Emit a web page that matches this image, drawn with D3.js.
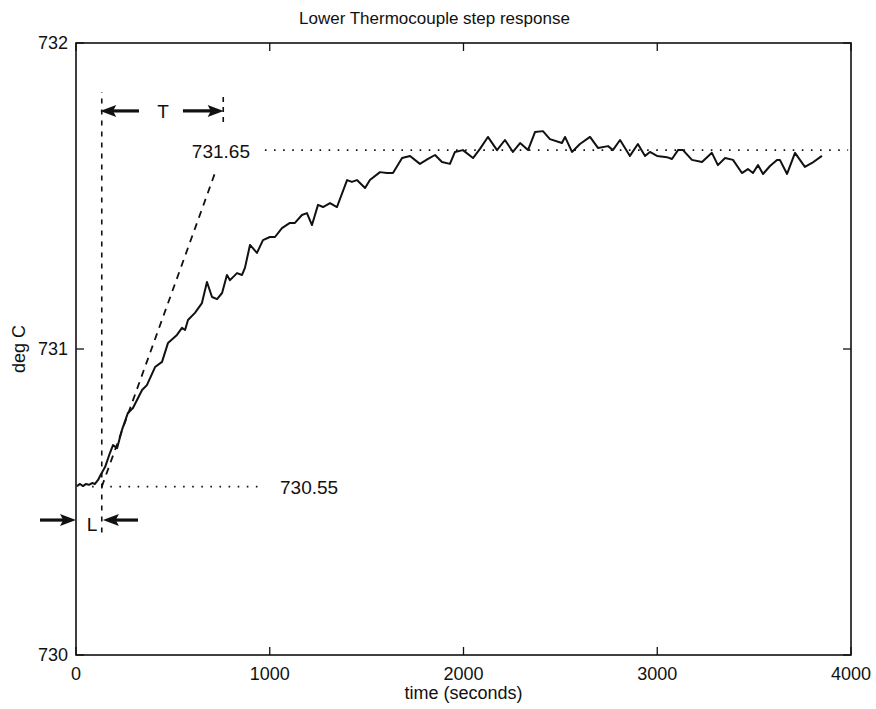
<!DOCTYPE html>
<html>
<head>
<meta charset="utf-8">
<script src="https://cdn.jsdelivr.net/npm/d3@7"></script>
<style>
  html, body { margin: 0; padding: 0; background: #fff; }
  svg { display: block; }
  text { font-family: "Liberation Sans", Arial, Helvetica, sans-serif; fill: #111; }
</style>
</head>
<body>
<svg id="chart" width="876" height="709"></svg>
<script>
// ---------- data ----------
const title = "Lower Thermocouple step response";
const xLabel = "time (seconds)";
const yLabel = "deg C";
const xTicks = [0, 1000, 2000, 3000, 4000];
const yTicks = [730, 731, 732];

const time = [5,21,36,52,67,83,98,114,124,150,175,191,212,237,268,294,341,366,408,444,475,521,547,563,578,614,650,676,702,728,754,779,795,831,857,872,898,934,965,1001,1027,1063,1104,1130,1166,1192,1218,1249,1275,1311,1347,1399,1424,1450,1492,1517,1569,1605,1636,1683,1724,1775,1817,1853,1889,1930,1956,1997,2049,2085,2126,2173,2214,2255,2292,2333,2369,2410,2446,2508,2524,2560,2601,2653,2694,2746,2771,2808,2859,2900,2937,2962,2999,3050,3076,3107,3133,3179,3231,3282,3313,3350,3391,3437,3468,3494,3520,3546,3582,3618,3633,3670,3711,3762,3799,3850];
const temp = [730.552,730.559,730.552,730.559,730.556,730.562,730.559,730.572,730.585,730.614,730.660,730.686,730.676,730.735,730.791,730.807,730.866,730.882,730.941,730.958,731.020,731.046,731.069,731.062,731.095,731.118,731.150,731.219,731.170,731.163,731.183,731.242,731.225,731.248,731.242,731.265,731.340,731.314,731.356,731.366,731.366,731.395,731.412,731.412,731.438,731.444,731.405,731.471,731.464,731.477,731.464,731.552,731.546,731.552,731.526,731.552,731.578,731.575,731.575,731.624,731.631,731.605,731.621,731.634,731.611,731.605,731.644,731.650,731.624,731.654,731.693,731.650,731.683,731.644,731.673,731.650,731.709,731.712,731.686,731.673,731.693,731.644,731.670,731.693,731.657,731.663,731.650,731.683,731.631,731.670,731.631,731.644,731.631,731.627,731.621,731.650,731.650,731.618,731.611,731.641,731.601,731.624,731.618,731.575,731.588,731.575,731.601,731.572,731.598,731.618,731.618,731.572,731.641,731.595,731.608,731.631];

// annotation values (data units)
const lowLevel = 730.55, highLevel = 731.65;
const lowDotRange = [83, 965];
const highDotRange = [975, 3985];
const lowLabelT = 1053, highLabelT = 898;
const tangentT = [133, 723];
const tangentV = [730.55, 731.585];
const lT = 133, tEndT = 760;
const lLineV = [730.40, 731.84];
const tLineV = [731.742, 731.84];
const tArrowV = 731.778;
const tArrowLeft = [325, 125];   // [tail, tip]
const tArrowRight = [552, 762];
const tLabelT = 449;
const lArrowV = 730.441;
const lArrowIn = [-186, 0];
const lArrowOut = [320, 139];
const lLabelT = 83;

// ---------- layout ----------
const svg = d3.select("#chart");
const mLeft = 76, mRight = 851, mTop = 43, mBottom = 655;
const x = d3.scaleLinear().domain([0, 4000]).range([mLeft, mRight]);
const y = d3.scaleLinear().domain([730, 732]).range([mBottom, mTop]);

// title
svg.append("text").attr("x", 299).attr("y", 24)
  .attr("text-anchor", "start").attr("font-size", 17).text(title);

// frame
svg.append("rect").attr("x", mLeft).attr("y", mTop).attr("width", mRight - mLeft).attr("height", mBottom - mTop)
  .attr("fill", "none").attr("stroke", "#111").attr("stroke-width", 1.6);

// ticks (inward, all sides)
const tl = 8;
const tickG = svg.append("g").attr("stroke", "#111").attr("stroke-width", 1.3);
xTicks.forEach(t => {
  tickG.append("line").attr("x1", x(t)).attr("x2", x(t)).attr("y1", mBottom).attr("y2", mBottom - tl);
  tickG.append("line").attr("x1", x(t)).attr("x2", x(t)).attr("y1", mTop).attr("y2", mTop + tl);
});
yTicks.forEach(v => {
  tickG.append("line").attr("x1", mLeft).attr("x2", mLeft + tl).attr("y1", y(v)).attr("y2", y(v));
  tickG.append("line").attr("x1", mRight).attr("x2", mRight - tl).attr("y1", y(v)).attr("y2", y(v));
});

// tick labels
svg.append("g").selectAll("text").data(xTicks).join("text")
  .attr("x", d => x(d)).attr("y", mBottom + 25).attr("text-anchor", "middle")
  .attr("font-size", 18).text(d => d);
svg.append("g").selectAll("text").data(yTicks).join("text")
  .attr("x", mLeft - 8).attr("y", d => y(d) + 6).attr("text-anchor", "end")
  .attr("font-size", 18).text(d => d);

// axis labels
svg.append("text").attr("x", (mLeft + mRight) / 2).attr("y", mBottom + 44)
  .attr("text-anchor", "middle").attr("font-size", 18).text(xLabel);
svg.append("text").attr("transform", `translate(25,${y(731)}) rotate(-90)`)
  .attr("text-anchor", "middle").attr("font-size", 18).text(yLabel);

// dotted reference lines
svg.append("line").attr("x1", x(lowDotRange[0])).attr("x2", x(lowDotRange[1]))
  .attr("y1", y(lowLevel)).attr("y2", y(lowLevel))
  .attr("stroke", "#111").attr("stroke-width", 1.8).attr("stroke-dasharray", "1.6,7.5");
svg.append("line").attr("x1", x(highDotRange[0])).attr("x2", x(highDotRange[1]))
  .attr("y1", y(highLevel)).attr("y2", y(highLevel))
  .attr("stroke", "#111").attr("stroke-width", 1.8).attr("stroke-dasharray", "1.6,7.5");

svg.append("text").attr("x", x(lowLabelT)).attr("y", y(lowLevel) + 7)
  .attr("text-anchor", "start").attr("font-size", 19).text("730.55");
svg.append("text").attr("x", x(highLabelT)).attr("y", y(highLevel) + 8)
  .attr("text-anchor", "end").attr("font-size", 19).text("731.65");

// dashed tangent and vertical lines
svg.append("line").attr("x1", x(tangentT[0])).attr("x2", x(tangentT[1]))
  .attr("y1", y(tangentV[0])).attr("y2", y(tangentV[1]))
  .attr("stroke", "#111").attr("stroke-width", 1.8).attr("stroke-dasharray", "7,6");
svg.append("line").attr("x1", x(lT)).attr("x2", x(lT))
  .attr("y1", y(lLineV[0])).attr("y2", y(lLineV[1]))
  .attr("stroke", "#111").attr("stroke-width", 1.6).attr("stroke-dasharray", "5,6");
svg.append("line").attr("x1", x(tEndT)).attr("x2", x(tEndT))
  .attr("y1", y(tLineV[0])).attr("y2", y(tLineV[1]))
  .attr("stroke", "#111").attr("stroke-width", 1.6).attr("stroke-dasharray", "5,5");

// response curve
const pts = time.map((t, i) => [t, temp[i]]);
svg.append("path").datum(pts)
  .attr("fill", "none").attr("stroke", "#111").attr("stroke-width", 2)
  .attr("stroke-linejoin", "round")
  .attr("d", d3.line().x(d => x(d[0])).y(d => y(d[1])));

// arrows
function arrow(tTail, tTip, v) {
  const x0 = x(tTail), x1 = x(tTip), yy = y(v);
  const dir = Math.sign(x1 - x0);
  const hl = 16, hw = 6;
  svg.append("line").attr("x1", x0).attr("x2", x1 - dir * hl * 0.6).attr("y1", yy).attr("y2", yy)
    .attr("stroke", "#111").attr("stroke-width", 3.2);
  svg.append("path")
    .attr("d", `M${x1},${yy} L${x1 - dir * hl},${yy - hw} L${x1 - dir * hl * 0.8},${yy} L${x1 - dir * hl},${yy + hw} Z`)
    .attr("fill", "#111");
}
arrow(tArrowLeft[0], tArrowLeft[1], tArrowV);
arrow(tArrowRight[0], tArrowRight[1], tArrowV);
arrow(lArrowIn[0], lArrowIn[1], lArrowV);
arrow(lArrowOut[0], lArrowOut[1], lArrowV);

svg.append("text").attr("x", x(tLabelT)).attr("y", y(tArrowV) + 7)
  .attr("text-anchor", "middle").attr("font-size", 19).text("T");
svg.append("text").attr("x", x(lLabelT)).attr("y", y(lArrowV) + 11)
  .attr("text-anchor", "middle").attr("font-size", 19).text("L");
</script>
</body>
</html>
